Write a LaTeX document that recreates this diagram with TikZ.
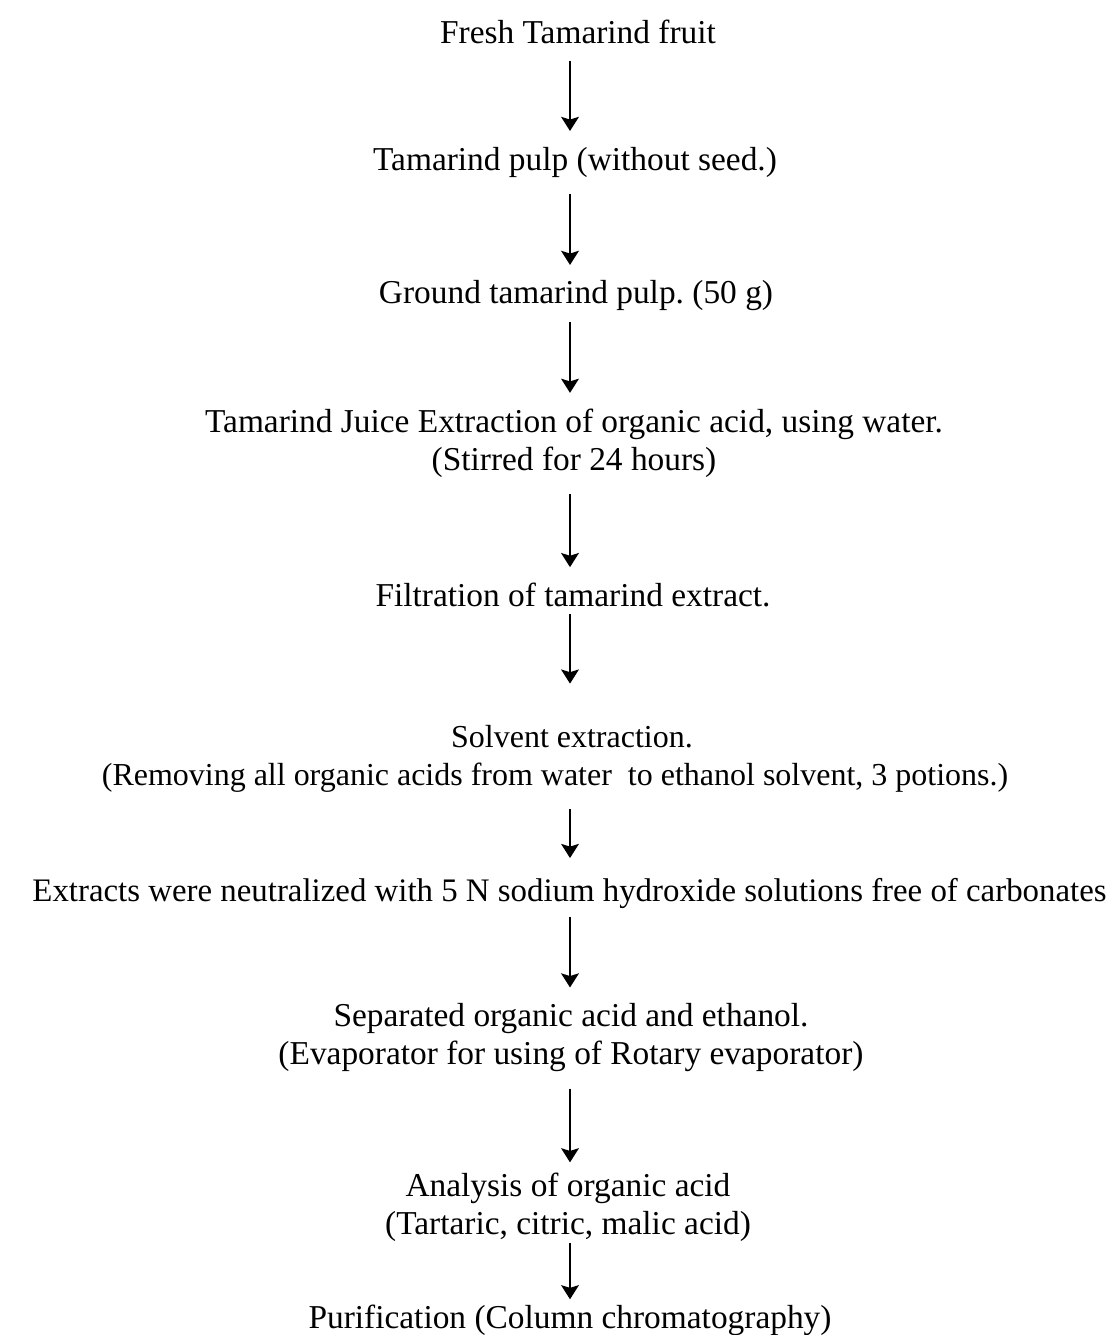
\documentclass[tikz,border=0pt]{standalone}
\usepackage{fontspec}
\setmainfont{Liberation Serif}
\usetikzlibrary{arrows.meta}
\frenchspacing
\begin{document}
\begin{tikzpicture}[
  stage/.style={inner sep=0pt, align=center, font=\fontsize{19}{21.6}\selectfont},
  flow/.style={line width=1.5pt, -{Stealth[length=8pt,width=10pt,inset=1.5pt]}, shorten <=0.33cm, shorten >=0.31cm}
]
\useasboundingbox (0,0) rectangle (22.26,-26.7);
\coordinate (ax) at (11.4,0);
\node[stage] (fresh) at (11.56,-0.64) {Fresh Tamarind fruit};
\node[stage] (pulp) at (11.50,-3.24) {Tamarind pulp (without seed.)};
\node[stage] (ground) at (11.52,-5.92) {Ground tamarind pulp. (50 g)};
\node[stage] (juice) at (11.48,-8.86) {Tamarind Juice Extraction of organic acid, using water.\\(Stirred for 24 hours)};
\node[stage] (filt) at (11.46,-11.9) {Filtration of tamarind extract.};
\node[stage, font=\fontsize{18.2}{21.6}\selectfont] (solv) at (11.44,-15.18) {Solvent extraction.\\(Removing all organic acids from water\ \ to ethanol solvent, 3 potions.)\hspace*{0.68cm}};
\node[stage, font=\fontsize{18.7}{21.6}\selectfont] (neut) at (11.39,-17.86) {Extracts were neutralized with 5 N sodium hydroxide solutions free of carbonates};
\node[stage] (sep) at (11.42,-20.75) {Separated organic acid and ethanol.\\(Evaporator for using of Rotary evaporator)};
\node[stage] (anal) at (11.36,-24.15) {Analysis of organic acid\\(Tartaric, citric, malic acid)};
\node[stage] (puri) at (11.40,-26.4) {Purification (Column chromatography)};
\draw[flow] (fresh.south -| ax) -- (pulp.north -| ax);
\draw[flow] (pulp.south -| ax) -- (ground.north -| ax);
\draw[flow, shorten <=0.21cm] (ground.south -| ax) -- (juice.north -| ax);
\draw[flow] (juice.south -| ax) -- (filt.north -| ax);
\draw[flow, shorten <=0.13cm, shorten >=0.83cm] (filt.south -| ax) -- (solv.north -| ax);
\draw[flow, shorten >=0.39cm] (solv.south -| ax) -- (neut.north -| ax);
\draw[flow, shorten <=0.17cm] (neut.south -| ax) -- (sep.north -| ax);
\draw[flow, shorten >=0.21cm] (sep.south -| ax) -- (anal.north -| ax);
\draw[flow, shorten <=0.02cm, shorten >=0.1cm] (anal.south -| ax) -- (puri.north -| ax);
\end{tikzpicture}
\end{document}
